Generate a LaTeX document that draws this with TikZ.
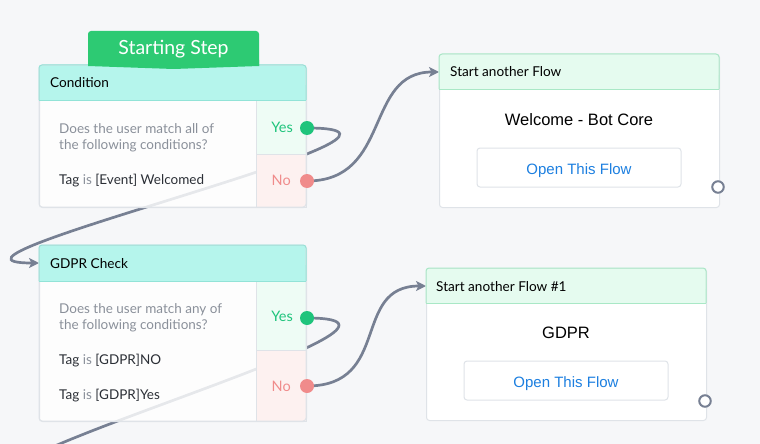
\documentclass[tikz,border=0pt]{standalone}
\usepackage{fontspec}
\setmainfont{Lato}
\newfontfamily\arialf{Liberation Sans}
\usetikzlibrary{arrows.meta}
\definecolor{bgc}{HTML}{F6F7F9}
\definecolor{tabgreen}{HTML}{2DCA73}
\definecolor{teal}{HTML}{B5F5EC}
\definecolor{tealb}{HTML}{92E3D7}
\definecolor{flowh}{HTML}{E5FBEF}
\definecolor{flowhb}{HTML}{A9E8C6}
\definecolor{boxb}{HTML}{DFE3E8}
\definecolor{yesbg}{HTML}{EEFCF5}
\definecolor{nobg}{HTML}{FDF1F0}
\definecolor{yesc}{HTML}{1FC47C}
\definecolor{noc}{HTML}{F08B8B}
\definecolor{linec}{HTML}{778093}
\definecolor{graytxt}{HTML}{8A909A}
\definecolor{darktxt}{HTML}{2B2F36}
\definecolor{bluetxt}{HTML}{1C7FE0}
\pgfdeclarelayer{back}
\pgfsetlayers{back,main}
\begin{document}
\begin{tikzpicture}[x=1pt,y=-1pt,
  boxbody/.style={draw=boxb,line width=1pt,rounded corners=3pt,fill=white,fill opacity=0.82,text opacity=1,anchor=north west,inner sep=0pt},
  col/.style={anchor=north west,inner sep=0pt,draw=boxb,line width=0.8pt},
  dot/.style={circle,inner sep=0pt,minimum size=14pt},
  outc/.style={circle,inner sep=0pt,minimum size=11.5pt,draw=linec,line width=2pt,fill=white},
  conn/.style={draw=linec,line width=2.7pt},
  arr/.style={-{Stealth[length=10pt,width=10pt,inset=2.5pt]}},
  txt/.style={anchor=base west,inner sep=0pt,font=\fontsize{13.5}{16}\selectfont},
  htxt/.style={anchor=base west,inner sep=0pt,font=\fontsize{13.6}{16}\selectfont,text=black},
  yestxt/.style={anchor=east,inner sep=0pt,text=yesc,font=\fontsize{14.5}{16}\selectfont},
  notxt/.style={anchor=east,inner sep=0pt,text=noc,font=\fontsize{14.5}{16}\selectfont},
  btnbox/.style={draw=boxb,line width=1pt,rounded corners=3pt,fill=white,minimum width=204pt,minimum height=39pt,inner sep=0pt},
  btntxt/.style={inner sep=0pt,text height=10.8pt,text depth=0pt,text=bluetxt,font=\arialf\fontsize{15}{17}\selectfont},
  ftitle/.style={inner sep=0pt,text height=11.8pt,text depth=0pt,font=\arialf\fontsize{16.5}{18}\selectfont,text=black}
]
\useasboundingbox (0,0) rectangle (760,444);
\begin{pgfonlayer}{back}
\fill[bgc] (0,0) rectangle (760,444);
\end{pgfonlayer}

% ---------- Condition box ----------
\node[boxbody,minimum width=267pt,minimum height=142pt] (c1) at (39,65) {};
\fill[teal,rounded corners=3pt] (39.5,65.5) rectangle (305.5,100);
\fill[teal] (39.5,85) rectangle (305.5,100);
\node[col,fill=yesbg,minimum width=50pt,minimum height=54pt] (c1ycol) at (256,100) {};
\node[col,fill=nobg,minimum width=50pt,minimum height=53pt] (c1ncol) at (256,154) {};
\draw[boxb,line width=1pt,rounded corners=3pt] (39,65) rectangle (306,207);
\draw[tealb,line width=1pt,rounded corners=3pt] (39,100) -- (39,65) -- (306,65) -- (306,100);
\draw[tealb,line width=1pt] (39,100) -- (306,100);
\node[htxt] (c1h) at (50,88) {Condition};
\node[txt,text=graytxt] (c1q1) at (59,133) {Does the user match all of};
\node[txt,text=graytxt] (c1q2) at (59,149) {the following conditions?};
\node[txt,text=darktxt] (c1t) at (59,184) {Tag \textcolor{graytxt}{is} [Event] Welcomed};
\node[yestxt] (c1yl) at (293,127) {Yes};
\node[notxt] (c1nl) at (291,180) {No};
\node[dot,fill=yesc] (c1yes) at (307,128) {};
\node[dot,fill=noc] (c1no) at (307,181) {};

% ---------- Starting Step tab ----------
\fill[tabgreen,rounded corners=3pt] (88,66) -- (88,31) -- (259,31) -- (259,66);
\fill[tabgreen] (88,60) -- (88,66) -- (173.5,69) -- (259,66) -- (259,60) -- cycle;
\node[inner sep=0pt,text=white,font=\fontsize{19.5}{21}\selectfont] (tab) at (173.5,49.5) {Starting Step};

% ---------- GDPR Check box ----------
\node[boxbody,minimum width=267pt,minimum height=176pt] (c2) at (39,245) {};
\fill[teal,rounded corners=3pt] (39.5,245.5) rectangle (305.5,281);
\fill[teal] (39.5,265) rectangle (305.5,281);
\node[col,fill=yesbg,minimum width=50pt,minimum height=69pt] (c2ycol) at (256,281) {};
\node[col,fill=nobg,minimum width=50pt,minimum height=71pt] (c2ncol) at (256,350) {};
\draw[boxb,line width=1pt,rounded corners=3pt] (39,245) rectangle (306,421);
\draw[tealb,line width=1pt,rounded corners=3pt] (39,281) -- (39,245) -- (306,245) -- (306,281);
\draw[tealb,line width=1pt] (39,281) -- (306,281);
\coordinate (c2in) at (39,263);
\node[htxt] (c2h) at (50,268) {GDPR Check};
\node[txt,text=graytxt] (c2q1) at (59,313) {Does the user match any of};
\node[txt,text=graytxt] (c2q2) at (59,329) {the following conditions?};
\node[txt,text=darktxt] (c2t1) at (59,364) {Tag \textcolor{graytxt}{is} [GDPR]NO};
\node[txt,text=darktxt] (c2t2) at (59,399) {Tag \textcolor{graytxt}{is} [GDPR]Yes};
\node[yestxt] (c2yl) at (293,316) {Yes};
\node[notxt] (c2nl) at (291,386) {No};
\node[dot,fill=yesc] (c2yes) at (307,318) {};
\node[dot,fill=noc] (c2no) at (307,386) {};

% ---------- Start another Flow ----------
\node[boxbody,fill opacity=1,minimum width=280pt,minimum height=153pt] (f1) at (439,54) {};
\fill[flowh,rounded corners=3pt] (439.5,54.5) rectangle (718.5,89);
\fill[flowh] (439.5,75) rectangle (718.5,89);
\draw[flowhb,line width=1pt,rounded corners=3pt] (439,89) -- (439,54) -- (719,54) -- (719,89);
\draw[flowhb,line width=1pt] (439,89) -- (719,89);
\coordinate (f1in) at (439,72);
\node[htxt] (f1h) at (450,77) {Start another Flow};
\node[ftitle] (f1t) at (579,120) {Welcome - Bot Core};
\node[btnbox] (f1b) at (579,167.5) {};
\node[btntxt] (f1bt) at (579,169) {Open This Flow};
\node[outc] (f1out) at (718,187) {};

% ---------- Start another Flow #1 ----------
\node[boxbody,fill opacity=1,minimum width=280pt,minimum height=152pt] (f2) at (426,268) {};
\fill[flowh,rounded corners=3pt] (426.5,268.5) rectangle (705.5,303);
\fill[flowh] (426.5,289) rectangle (705.5,303);
\draw[flowhb,line width=1pt,rounded corners=3pt] (426,303) -- (426,268) -- (706,268) -- (706,303);
\draw[flowhb,line width=1pt] (426,303) -- (706,303);
\coordinate (f2in) at (426,286);
\node[htxt] (f2h) at (436,291) {Start another Flow \#1};
\node[ftitle] (f2t) at (566,333) {GDPR};
\node[btnbox] (f2b) at (566,380.5) {};
\node[btntxt] (f2bt) at (566,382) {Open This Flow};
\node[outc] (f2out) at (705,401) {};

% ---------- connectors ----------
\coordinate (offend) at (39,480);
\begin{pgfonlayer}{back}
\draw[conn,arr] (c1yes.center) .. controls +(175,0) and +(-145,0) .. (c2in);
\draw[conn,arr] (c1no.center) .. controls +(85,0) and +(-75,0) .. (f1in);
\draw[conn] (c2yes.center) .. controls +(175,0) and +(-165,0) .. (offend);
\draw[conn,arr] (c2no.center) .. controls +(85,0) and +(-75,0) .. (f2in);
\end{pgfonlayer}
\end{tikzpicture}
\end{document}
